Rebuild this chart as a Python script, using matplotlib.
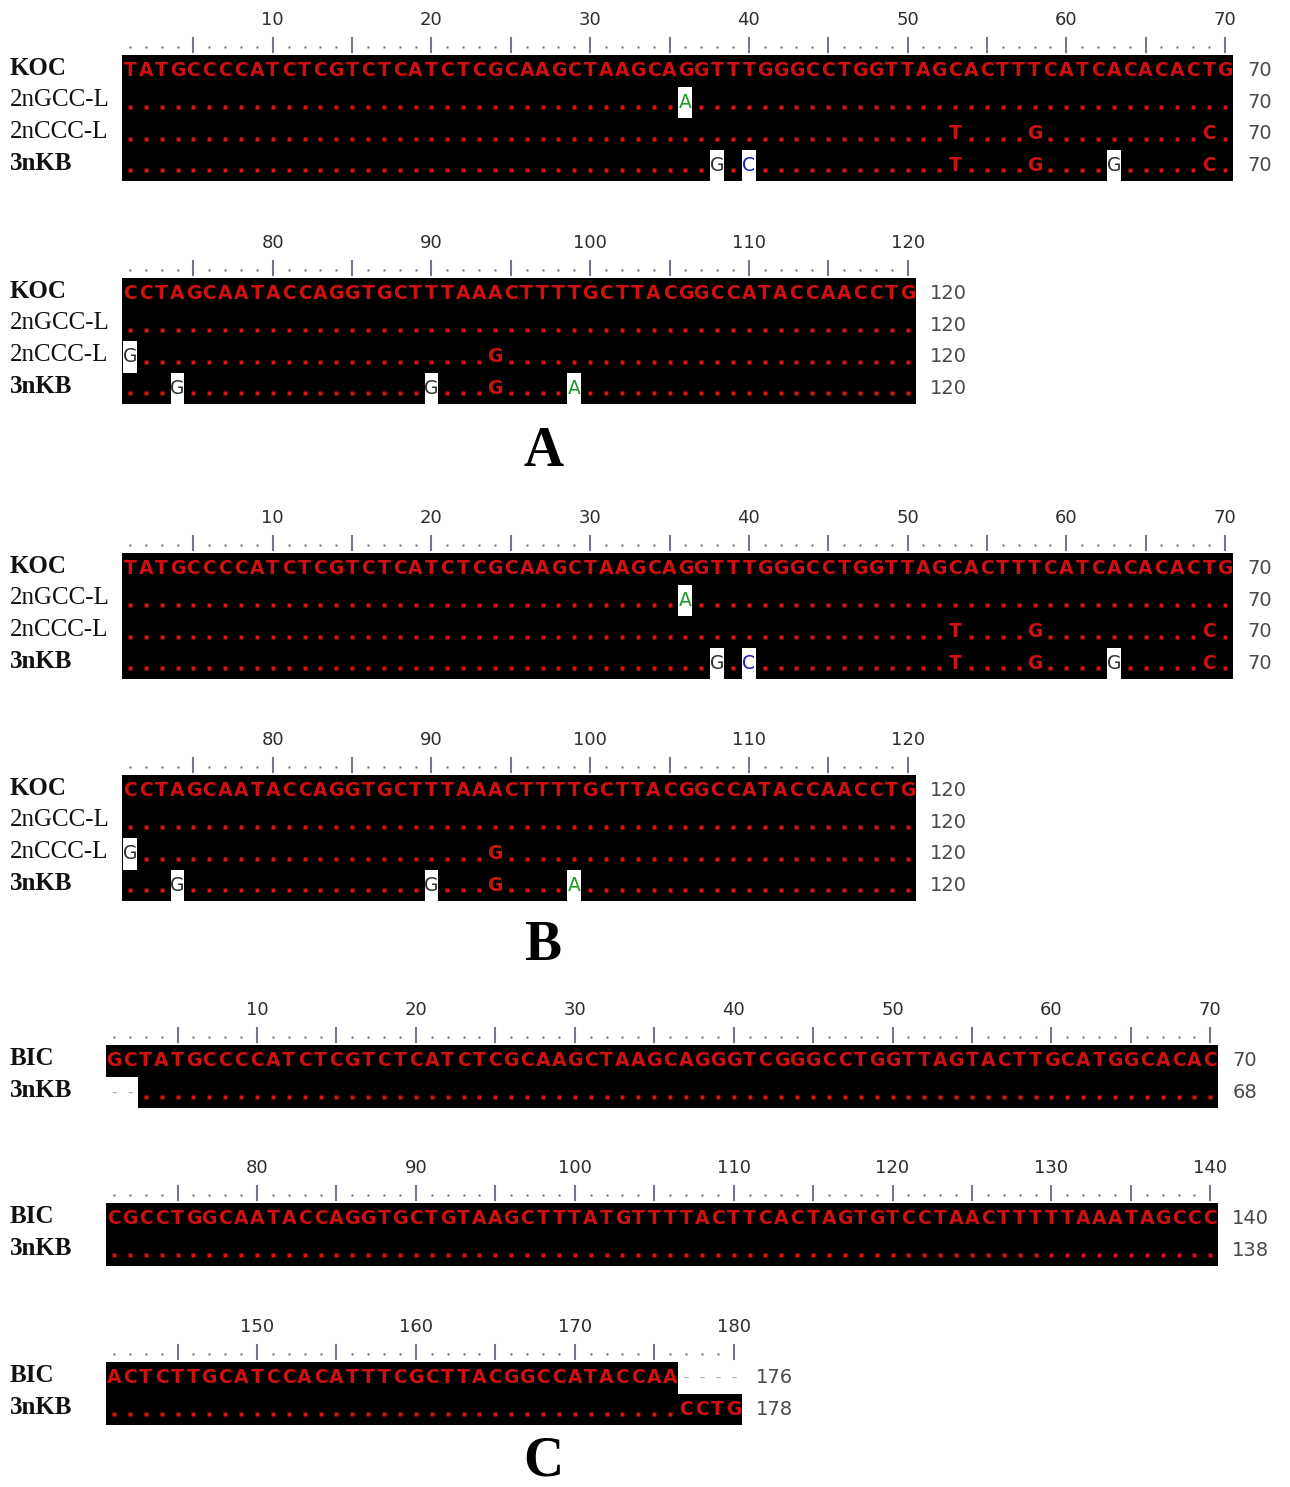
import matplotlib
matplotlib.use("Agg")
import matplotlib.pyplot as plt
from matplotlib.patches import Rectangle

# sequences
koc_seq = ("TATGCCCCATCTCGTCTCATCTCGCAAGCTAAGCAGGTTTGGGCCTGGTTAGCACTTTCATCACACACTG"
           "CCTAGCAATACCAGGTGCTTTAAACTTTTGCTTACGGCCATACCAACCTG")
koc_names = ["KOC", "2nGCC-L", "2nCCC-L", "3nKB"]
koc_diffs = {
    "2nGCC-L": {36: "A"},
    "2nCCC-L": {53: "T", 58: "G", 69: "C", 71: "G", 94: "G"},
    "3nKB": {38: "G", 40: "C", 53: "T", 58: "G", 63: "G", 69: "C",
             74: "G", 90: "G", 94: "G", 99: "A"},
}

bic_seq = ("GCTATGCCCCATCTCGTCTCATCTCGCAAGCTAAGCAGGGTCGGGCCTGGTTAGTACTTGCATGGCACAC"
           "CGCCTGGCAATACCAGGTGCTGTAAGCTTTATGTTTTACTTCACTAGTGTCCTAACTTTTTAAATAGCCC"
           "ACTCTTGCATCCACATTTCGCTTACGGCCATACCAA")
bic_names = ["BIC", "3nKB"]
kb_lead_gaps = 2
kb_tail = "CCTG"

bold_names = {"KOC", "3nKB", "BIC"}
base_colors = {"A": "#1f9a2a", "C": "#1a1ad0", "G": "#333333", "T": "#b00000"}
RED = "#d01010"


def build_koc_rows():
    rows = []
    for name in koc_names:
        s = list(koc_seq)
        for p, b in koc_diffs.get(name, {}).items():
            s[p - 1] = b
        rows.append("".join(s))
    return rows


def build_bic_rows():
    bic = bic_seq + "-" * len(kb_tail)
    kb = "-" * kb_lead_gaps + bic_seq[kb_lead_gaps:] + kb_tail
    return [bic, kb]


def draw_block(ax, names, rows, c0, c1, top, x0, cw, rh):
    ref = rows[0]
    ncol = c1 - c0 + 1
    # ruler
    for p in range(c0, c1 + 1):
        xc = x0 + (p - c0 + 0.5) * cw
        if p % 5 == 0:
            ax.plot([xc, xc], [top - 17, top - 3], color="#7d7290", lw=1.5)
        else:
            ax.plot(xc, top - 8, marker="s", ms=2.0, color="#6a6a6a", mec="none")
        if p % 10 == 0:
            ax.text(xc, top - 35, str(p), ha="center", va="center",
                    fontsize=13, color="#2e2e2e", family="DejaVu Sans")
    for r, (name, row) in enumerate(zip(names, rows)):
        y0 = top + r * rh
        yc = y0 + rh / 2
        # black background over residues (not gaps)
        p = c0
        while p <= c1:
            if row[p - 1] != "-":
                q = p
                while q + 1 <= c1 and row[q] != "-":
                    q += 1
                ax.add_patch(Rectangle((x0 + (p - c0) * cw, y0), (q - p + 1) * cw, rh,
                                       facecolor="black", edgecolor="none", zorder=1))
                p = q + 1
            else:
                p += 1
        for p in range(c0, c1 + 1):
            ch = row[p - 1]
            xc = x0 + (p - c0 + 0.5) * cw
            if ch == "-":
                ax.text(xc, yc, "-", ha="center", va="center", fontsize=11,
                        color="#b0b0b0", zorder=3)
                continue
            if r == 0:
                ax.text(xc, yc, ch, ha="center", va="center", fontsize=13.5,
                        weight="bold", color=RED, family="DejaVu Sans", zorder=3)
                continue
            rc = ref[p - 1]
            if ch == rc:
                ax.plot(xc, yc + 5, marker="s", ms=2.4, color="#e01010",
                        mec="none", zorder=3)
                continue
            shared = sum(1 for other in rows[1:] if other[p - 1] == ch)
            if rc == "-" or shared >= 2:
                ax.text(xc, yc, ch, ha="center", va="center", fontsize=13.5,
                        weight="bold", color=RED, family="DejaVu Sans", zorder=3)
            else:
                ax.add_patch(Rectangle((x0 + (p - c0) * cw + 1, y0), cw - 2, rh,
                                       facecolor="white", edgecolor="none", zorder=2))
                ax.text(xc, yc, ch, ha="center", va="center", fontsize=13.5,
                        color=base_colors.get(ch, "#333333"), family="DejaVu Sans",
                        zorder=3)
        # name and running residue count
        ax.text(10, yc - 2, name, ha="left", va="center", fontsize=18,
                family="Liberation Serif",
                weight="bold" if name in bold_names else "normal", color="#111111")
        count = sum(1 for ch in row[:c1] if ch != "-")
        ax.text(x0 + ncol * cw + 14, yc, str(count), ha="left", va="center",
                fontsize=14, color="#4a4a4a", family="DejaVu Sans")


def main():
    fig = plt.figure(figsize=(12.9, 14.87), dpi=100)
    ax = fig.add_axes([0, 0, 1, 1])
    ax.set_xlim(0, 1290)
    ax.set_ylim(1487, 0)
    ax.axis("off")

    koc_rows = build_koc_rows()
    bic_rows = build_bic_rows()

    # panel A and B show the same alignment
    for blocks, label, ly in [([(1, 70, 55), (71, 120, 278)], "A", 452),
                              ([(1, 70, 553), (71, 120, 775)], "B", 946)]:
        for c0, c1, top in blocks:
            draw_block(ax, koc_names, koc_rows, c0, c1, top, 122, 15.87, 31.5)
        ax.text(543, ly, label, ha="center", va="center", fontsize=40,
                weight="bold", family="Liberation Serif")

    for c0, c1, top in [(1, 70, 1045), (71, 140, 1203), (141, 180, 1362)]:
        draw_block(ax, bic_names, bic_rows, c0, c1, top, 106, 15.89, 31.5)
    ax.text(543, 1462, "C", ha="center", va="center", fontsize=40,
            weight="bold", family="Liberation Serif")

    fig.savefig("out.png", dpi=100)
    plt.close(fig)


if __name__ == "__main__":
    main()
